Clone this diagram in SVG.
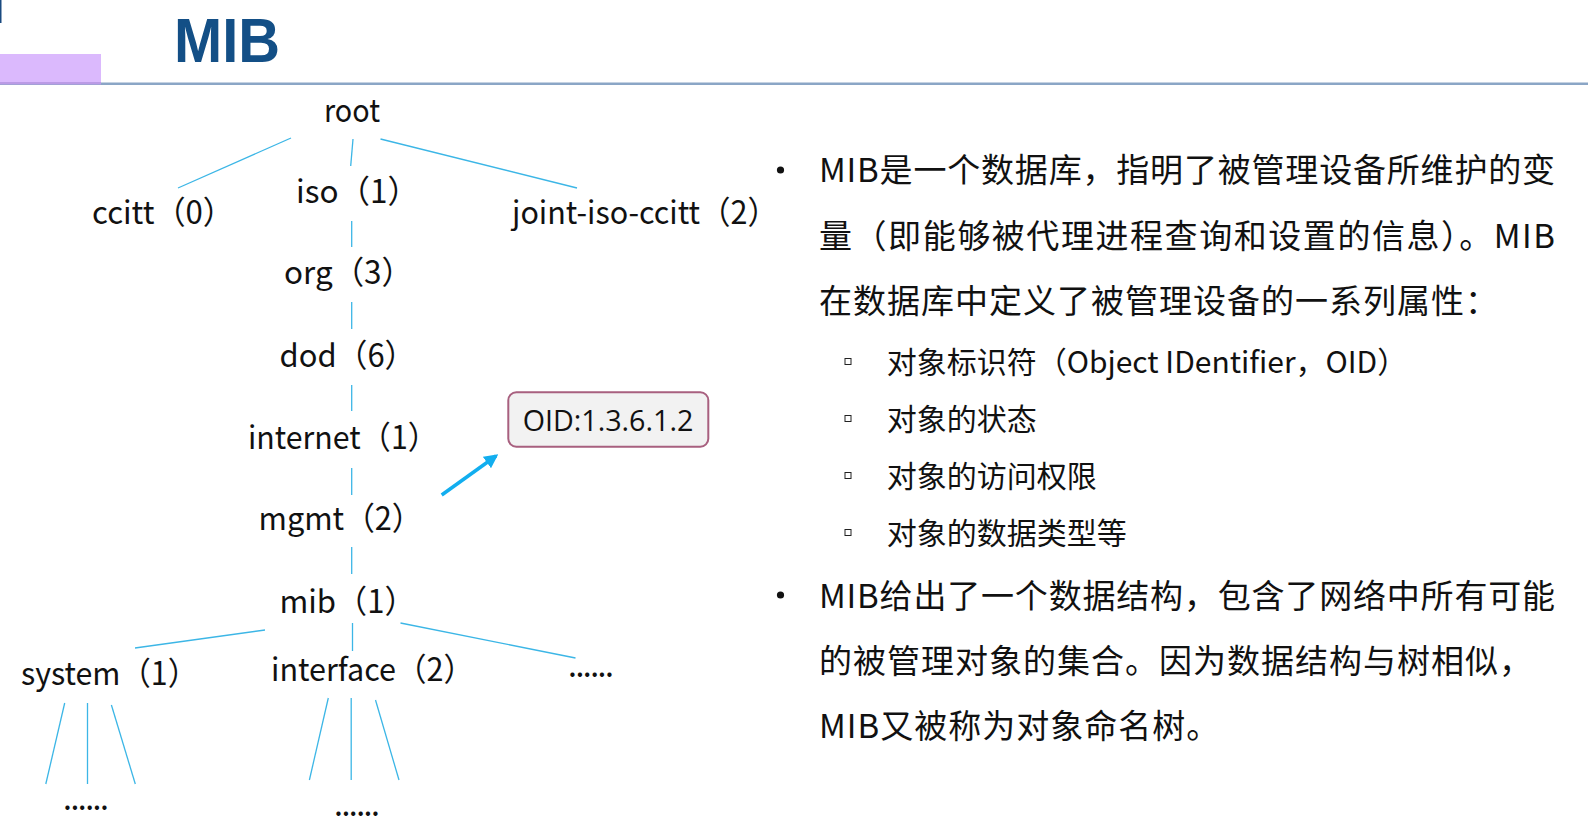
<svg xmlns="http://www.w3.org/2000/svg" width="1588" height="828" viewBox="0 0 1588 828">
<defs>
<style>
.t{font-family:"Noto Sans CJK SC","Noto Sans",sans-serif;font-size:32px;fill:#111}
.dots{font-family:"Noto Sans CJK SC","Noto Sans",sans-serif;font-size:32px;fill:#111;letter-spacing:-1.5px}
.c{stroke:#3cb6e6;stroke-width:1.3;fill:none}
.m{font-family:"Noto Sans CJK SC","Noto Sans",sans-serif;font-size:33px;fill:#111}
.s{font-family:"Noto Sans CJK SC","Noto Sans",sans-serif;font-size:30px;fill:#111}
.sq{fill:none;stroke:#222;stroke-width:1}
</style>
<marker id="ah" viewBox="0 0 10 10" refX="8" refY="5" markerWidth="4" markerHeight="4" orient="auto" markerUnits="strokeWidth">
<path d="M0,0 L10,5 L0,10 z" fill="#12aeef"/>
</marker>
</defs>
<rect width="1588" height="828" fill="#fff"/>
<g id="header">
<rect x="0" y="82.5" width="1588" height="2.5" fill="#8ba6c6"/>
<rect x="0" y="54" width="101" height="30" fill="#dbb9fd"/>
<rect x="0" y="82" width="101" height="2.5" fill="#bb9be6"/>
<rect x="0" y="0" width="1.5" height="23" fill="#1a4a80"/>
<text x="174" y="62" font-family="'Liberation Sans',Arial,sans-serif" font-weight="bold" font-size="63" fill="#134f86" textLength="106" lengthAdjust="spacingAndGlyphs">MIB</text>
</g>
<g id="connectors">
<line class="c" x1="291" y1="138" x2="178" y2="188"/>
<line class="c" x1="353" y1="139" x2="350.7" y2="166"/>
<line class="c" x1="380.5" y1="139" x2="577" y2="188"/>
<line class="c" x1="351.7" y1="221" x2="351.7" y2="247"/>
<line class="c" x1="351.7" y1="302" x2="351.7" y2="329"/>
<line class="c" x1="351.7" y1="385" x2="351.7" y2="411"/>
<line class="c" x1="351.7" y1="468" x2="351.7" y2="495"/>
<line class="c" x1="351.7" y1="547" x2="351.7" y2="574"/>
<line class="c" x1="265" y1="630" x2="135" y2="648"/>
<line class="c" x1="352.5" y1="623" x2="352.5" y2="651"/>
<line class="c" x1="400.5" y1="623" x2="575.5" y2="658"/>
<line class="c" x1="64.7" y1="703" x2="45.8" y2="784"/>
<line class="c" x1="87.5" y1="703" x2="87.5" y2="784"/>
<line class="c" x1="111.4" y1="705" x2="135.3" y2="784"/>
<line class="c" x1="328.3" y1="698" x2="309.4" y2="780"/>
<line class="c" x1="351.2" y1="698" x2="351.2" y2="780"/>
<line class="c" x1="375.5" y1="700" x2="399" y2="780"/>
<line x1="441.7" y1="495" x2="496" y2="456" stroke="#12aeef" stroke-width="3.5" marker-end="url(#ah)"/>
</g>
<g id="n-root"><text class="t" x="324" y="122" textLength="56" lengthAdjust="spacingAndGlyphs">root</text></g>
<g id="n-ccitt"><text class="t" x="92" y="224" textLength="142" lengthAdjust="spacingAndGlyphs">ccitt（0）</text></g>
<g id="n-iso"><text class="t" x="296" y="203" textLength="123" lengthAdjust="spacingAndGlyphs">iso（1）</text></g>
<g id="n-joint"><text class="t" x="512" y="224" textLength="266" lengthAdjust="spacingAndGlyphs">joint-iso-ccitt（2）</text></g>
<g id="n-org"><text class="t" x="284" y="284" textLength="129" lengthAdjust="spacingAndGlyphs">org（3）</text></g>
<g id="n-dod"><text class="t" x="279.5" y="367" textLength="136" lengthAdjust="spacingAndGlyphs">dod（6）</text></g>
<g id="n-internet"><text class="t" x="248" y="449" textLength="190" lengthAdjust="spacingAndGlyphs">internet（1）</text></g>
<g id="n-mgmt"><text class="t" x="258.5" y="530" textLength="164" lengthAdjust="spacingAndGlyphs">mgmt（2）</text></g>
<g id="n-mib"><text class="t" x="279.5" y="613" textLength="136" lengthAdjust="spacingAndGlyphs">mib（1）</text></g>
<g id="n-system"><text class="t" x="21" y="685" textLength="177" lengthAdjust="spacingAndGlyphs">system（1）</text></g>
<g id="n-interface"><text class="t" x="271" y="681" textLength="203" lengthAdjust="spacingAndGlyphs">interface（2）</text></g>
<g id="n-more"><text class="dots" x="568" y="677">......</text></g>
<g id="n-sys-more"><text class="dots" x="63" y="810">......</text></g>
<g id="n-if-more"><text class="dots" x="334" y="816">......</text></g>
<g id="n-oid">
<rect x="508.3" y="392.3" width="200" height="54.4" rx="8" fill="#f2f2f2" stroke="#a8607f" stroke-width="2"/>
<text x="522.7" y="431" font-family="'Open Sans','Noto Sans',sans-serif" font-size="29" fill="#111" textLength="170.6" lengthAdjust="spacingAndGlyphs">OID:1.3.6.1.2</text>
</g>
<g id="desc">
<circle cx="780.5" cy="170" r="3.6" fill="#111"/>
<text class="m" x="819" y="182" textLength="736" lengthAdjust="spacing">MIB是一个数据库，指明了被管理设备所维护的变</text>
<text class="m" x="819" y="248" textLength="736" lengthAdjust="spacing">量（即能够被代理进程查询和设置的信息）。MIB</text>
<text class="m" x="819" y="313" letter-spacing="1">在数据库中定义了被管理设备的一系列属性：</text>
<rect class="sq" x="845" y="358.5" width="6" height="6"/>
<text class="s" x="886.7" y="373">对象标识符（Object IDentifier，OID）</text>
<rect class="sq" x="845" y="415.5" width="6" height="6"/>
<text class="s" x="886.7" y="430">对象的状态</text>
<rect class="sq" x="845" y="472.5" width="6" height="6"/>
<text class="s" x="886.7" y="487">对象的访问权限</text>
<rect class="sq" x="845" y="529.5" width="6" height="6"/>
<text class="s" x="886.7" y="544">对象的数据类型等</text>
<circle cx="780.5" cy="595" r="3.6" fill="#111"/>
<text class="m" x="819" y="608" textLength="736" lengthAdjust="spacing">MIB给出了一个数据结构，包含了网络中所有可能</text>
<text class="m" x="819" y="673" letter-spacing="1">的被管理对象的集合。因为数据结构与树相似，</text>
<text class="m" x="819" y="738" letter-spacing="1">MIB又被称为对象命名树。</text>
</g>
</svg>
